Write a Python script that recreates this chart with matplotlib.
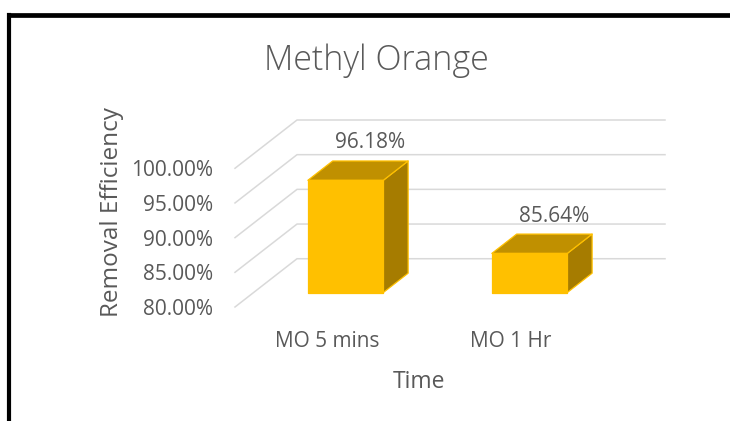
import matplotlib
matplotlib.use("Agg")
import matplotlib.pyplot as plt
from matplotlib.patches import Polygon
from matplotlib.lines import Line2D
from matplotlib import font_manager

categories = ["MO 5 mins", "MO 1 Hr"]
efficiency = [96.18, 85.64]
tick_values = [80, 85, 90, 95, 100]
tick_labels = ["80.00%", "85.00%", "90.00%", "95.00%", "100.00%"]
value_labels = ["96.18%", "85.64%"]

available = {f.name for f in font_manager.fontManager.ttflist}
family = ["Open Sans", "DejaVu Sans"] if "Open Sans" in available else ["DejaVu Sans"]
plt.rcParams["font.family"] = family

TEXT = "#595959"
GRID = "#d9d9d9"
FRONT = "#FFC000"
TOP = "#C09000"
SIDE = "#A67C00"

# oblique depth offset: one unit of depth shifts by DX categories and DY percent
DX = 0.337
DY = 6.96
VMIN, VMAX = 80, 100
BAR_W = 0.41
Z0, Z1 = 0.3, 0.7


def proj(x, v, z):
    return (x + z * DX, v + z * DY)


W, H = 730, 421
fig = plt.figure(figsize=(W / 100, H / 100), dpi=100)
ax = fig.add_axes([235 / W, (H - 307) / H, 430 / W, 187 / H])
ax.set_xlim(0, len(categories) + DX)
ax.set_ylim(VMIN, VMAX + DY)
for s in ax.spines.values():
    s.set_visible(False)

# gridlines on side wall and back wall
for v in tick_values:
    pts = [proj(0, v, 0), proj(0, v, 1), proj(len(categories), v, 1)]
    ax.add_line(Line2D([p[0] for p in pts], [p[1] for p in pts],
                       color=GRID, lw=1.1, zorder=1, clip_on=False))

# 3D bars
for i, val in enumerate(efficiency):
    x0 = i + 0.5 - BAR_W / 2
    x1 = i + 0.5 + BAR_W / 2
    front = [proj(x0, VMIN, Z0), proj(x1, VMIN, Z0), proj(x1, val, Z0), proj(x0, val, Z0)]
    top = [proj(x0, val, Z0), proj(x1, val, Z0), proj(x1, val, Z1), proj(x0, val, Z1)]
    side = [proj(x1, VMIN, Z0), proj(x1, VMIN, Z1), proj(x1, val, Z1), proj(x1, val, Z0)]
    for poly, col in ((side, SIDE), (top, TOP), (front, FRONT)):
        ax.add_patch(Polygon(poly, closed=True, facecolor=col, edgecolor=FRONT,
                             lw=0.9, zorder=3, clip_on=False, joinstyle="round"))
    cx, cy = proj(i + 0.5, val, Z1)
    ax.annotate(value_labels[i], (cx, cy), xytext=(0, 13), textcoords="offset points",
                ha="center", va="center", fontsize=15, color=TEXT, zorder=5)

ax.set_yticks(tick_values)
ax.set_yticklabels(tick_labels)
ax.set_xticks([i + 0.5 for i in range(len(categories))])
ax.set_xticklabels(categories)
ax.tick_params(axis="y", length=0, pad=16, labelsize=15, labelcolor=TEXT)
ax.tick_params(axis="x", length=0, pad=17, labelsize=15, labelcolor=TEXT)
ax.set_xlabel("Time", fontsize=16.5, color=TEXT, labelpad=13)
# axis title sits under the centre of the front floor edge
ax.xaxis.label.set_x((len(categories) / 2) / (len(categories) + DX))
ax.set_ylabel("Removal Efficiency", fontsize=17.5, color=TEXT, labelpad=5)
ax.yaxis.label.set_y(0.51)
ax.patch.set_visible(False)

fig.text(376 / W, 1 - 61 / H, "Methyl Orange", ha="center", va="center",
         fontsize=24.5, color=TEXT, fontweight=300)

# chart frame (top and left edges)
fig.add_artist(Line2D([8.7 / W, 1.01], [1 - 14.5 / H, 1 - 14.5 / H],
                      color="black", lw=3.4, transform=fig.transFigure,
                      solid_capstyle="projecting"))
fig.add_artist(Line2D([8.7 / W, 8.7 / W], [1 - 14.5 / H, -0.01],
                      color="black", lw=3.0, transform=fig.transFigure,
                      solid_capstyle="projecting"))

fig.savefig("out.png", dpi=100, facecolor="white")
